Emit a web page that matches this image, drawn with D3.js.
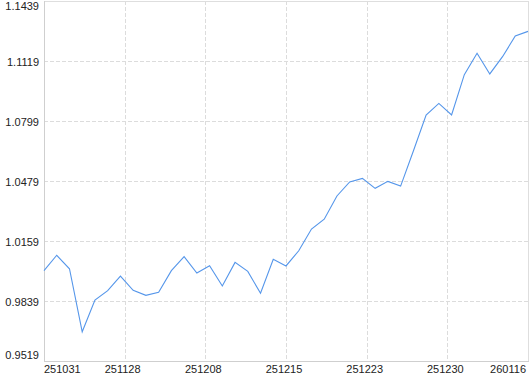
<!DOCTYPE html>
<html>
<head>
<meta charset="utf-8">
<script src="https://cdn.jsdelivr.net/npm/d3@7"></script>
<style>
  html, body { margin: 0; padding: 0; background: #fff; }
  svg text { font-family: "Liberation Sans", Arial, sans-serif; font-size: 11px; fill: #222; }
</style>
</head>
<body>
<div id="viz"></div>
<script>
// values, one per trading point
const values = [
  1.0001, 1.0083, 1.0011, 0.9675, 0.9844, 0.9894, 0.9972, 0.9896, 0.9869, 0.9885,
  1.0001, 1.0076, 0.9988, 1.0027, 0.9919, 1.0045, 0.9997, 0.9880, 1.0061, 1.0026,
  1.0107, 1.0223, 1.0275, 1.0399, 1.0474, 1.0493, 1.0440, 1.0477, 1.0452, 1.0639,
  1.0831, 1.0893, 1.0831, 1.1046, 1.1160, 1.1050, 1.1142, 1.1252, 1.1277
];
const xTickLabels = ['251031', '251128', '251208', '251215', '251223', '251230', '260116'];
const yTickValues = [0.9519, 0.9839, 1.0159, 1.0479, 1.0799, 1.1119, 1.1439];

const width = 530;
const height = 374;
const plot = { left: 44, right: 528, top: 1, bottom: 361 };

const svg = d3.select('#viz')
  .append('svg')
  .attr('width', width)
  .attr('height', height);

const x = d3.scaleLinear()
  .domain([0, values.length - 1])
  .range([plot.left, plot.right]);

const y = d3.scaleLinear()
  .domain([yTickValues[0], yTickValues[yTickValues.length - 1]])
  .range([plot.bottom, plot.top]);

// x ticks sit at even fractions of the index range
const n = xTickLabels.length - 1;
const xTicks = xTickLabels.map((_, i) => i * (values.length - 1) / n);

// grid
svg.append('g')
  .selectAll('line.hgrid')
  .data(yTickValues.slice(1, -1))
  .join('line')
  .attr('x1', plot.left).attr('x2', plot.right)
  .attr('y1', d => Math.round(y(d)) + 0.5).attr('y2', d => Math.round(y(d)) + 0.5)
  .attr('stroke', '#dcdcdc')
  .attr('stroke-dasharray', '4,2');

svg.append('g')
  .selectAll('line.vgrid')
  .data(xTicks.slice(1, -1))
  .join('line')
  .attr('x1', d => Math.round(x(d)) + 0.5).attr('x2', d => Math.round(x(d)) + 0.5)
  .attr('y1', plot.top).attr('y2', plot.bottom)
  .attr('stroke', '#dcdcdc')
  .attr('stroke-dasharray', '4,2');

// frame: light top/right, darker left/bottom
svg.append('line')
  .attr('x1', plot.left).attr('x2', plot.right)
  .attr('y1', plot.top + 0.5).attr('y2', plot.top + 0.5)
  .attr('stroke', '#dedede');
svg.append('line')
  .attr('x1', plot.right + 0.5).attr('x2', plot.right + 0.5)
  .attr('y1', plot.top).attr('y2', plot.bottom)
  .attr('stroke', '#dedede');
svg.append('line')
  .attr('x1', plot.left + 0.5).attr('x2', plot.left + 0.5)
  .attr('y1', plot.top).attr('y2', plot.bottom + 1)
  .attr('stroke', '#cfcfcf');
svg.append('line')
  .attr('x1', plot.left).attr('x2', plot.right + 1)
  .attr('y1', plot.bottom + 0.5).attr('y2', plot.bottom + 0.5)
  .attr('stroke', '#cfcfcf');

// y labels, clamped inside the plot at top and bottom
svg.append('g')
  .selectAll('text')
  .data(yTickValues)
  .join('text')
  .attr('x', plot.left - 5)
  .attr('y', d => {
    const base = y(d) + 5;
    return Math.min(Math.max(base, plot.top + 8.5), plot.bottom - 2.5);
  })
  .attr('text-anchor', 'end')
  .text(d => d.toFixed(4));

// x labels, first and last clamped to the plot edges
svg.append('g')
  .selectAll('text')
  .data(xTicks)
  .join('text')
  .attr('x', (d, i) => i === 0 ? plot.left : i === n ? plot.right - 2 : x(d) - 2)
  .attr('y', plot.bottom + 11.5)
  .attr('text-anchor', (d, i) => i === 0 ? 'start' : i === n ? 'end' : 'middle')
  .text((d, i) => xTickLabels[i]);

// series line
const line = d3.line()
  .x((d, i) => x(i))
  .y(d => y(d));

svg.append('path')
  .datum(values)
  .attr('fill', 'none')
  .attr('stroke', '#5596ea')
  .attr('stroke-width', 1.1)
  .attr('d', line);
</script>
</body>
</html>
